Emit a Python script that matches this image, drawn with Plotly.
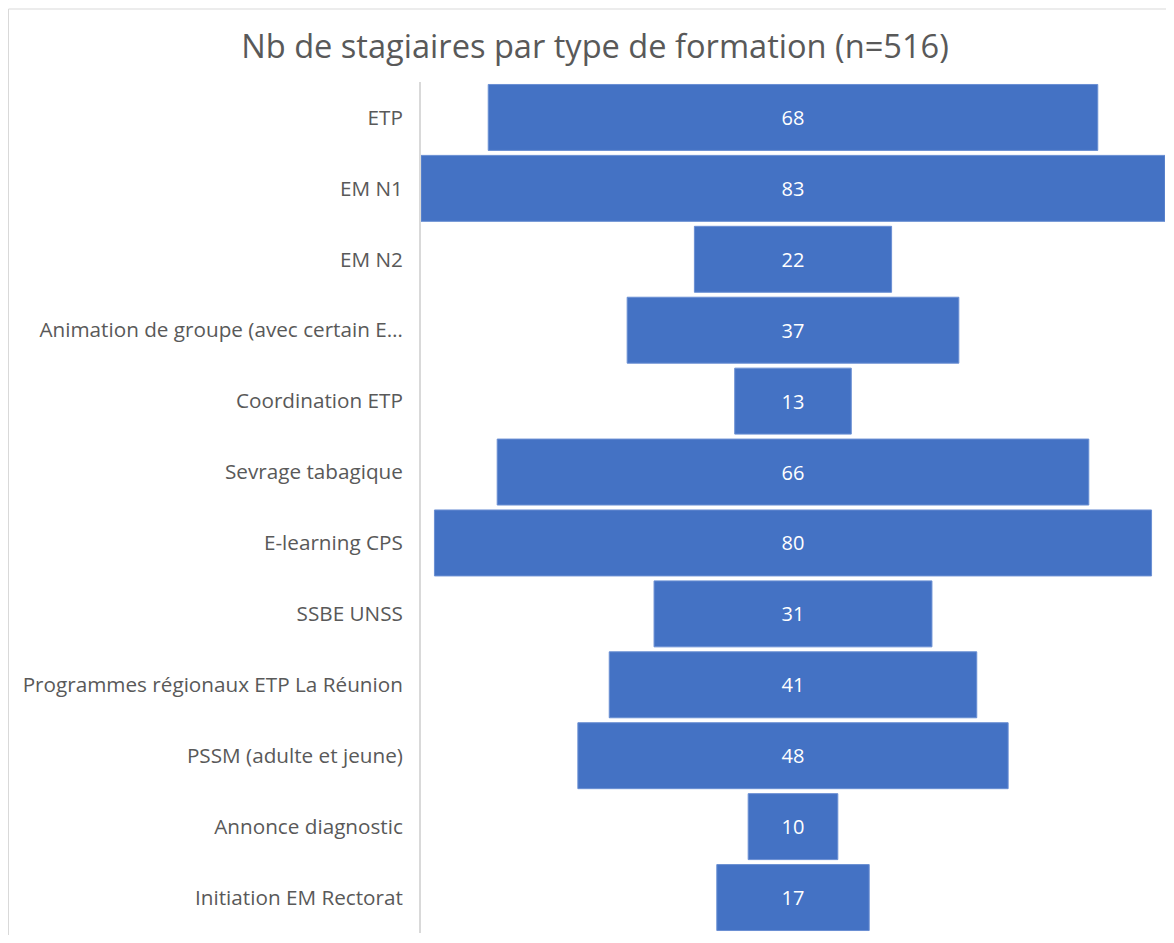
import plotly.graph_objects as go

categories = [
    "ETP",
    "EM N1",
    "EM N2",
    "Animation de groupe (avec certain E…",
    "Coordination ETP",
    "Sevrage tabagique",
    "E-learning CPS",
    "SSBE UNSS",
    "Programmes régionaux ETP La Réunion",
    "PSSM (adulte et jeune)",
    "Annonce diagnostic",
    "Initiation EM Rectorat",
]
values = [68, 83, 22, 37, 13, 66, 80, 31, 41, 48, 10, 17]
title_text = "Nb de stagiaires par type de formation (n=516)"

OFF = 8  # page body margin
W, H = 1174 - 2 * OFF, 943 - 2 * OFF
L, T = 421 - OFF, 82 - OFF
R = W + OFF - 1165
B = H + OFF - 933
FONT = "Open Sans"
GREY = "#595959"

fig = go.Figure(go.Funnel(
    y=categories,
    x=values,
    textinfo="value",
    textposition="inside",
    insidetextanchor="middle",
    textfont=dict(family=FONT, size=20, color="white"),
    marker=dict(color="#4472c4", line=dict(width=1, color="#6a8fd3")),
    connector=dict(visible=False),
))

pw = 1165 - 421
ph = 933 - 82
fig.add_shape(type="rect", xref="paper", yref="paper",
              x0=(8.5 - 421) / pw, x1=1.2, y0=-0.2, y1=1 + (82 - 9) / ph,
              line=dict(color="#d9d9d9", width=1), layer="below")

fig.update_layout(
    width=W, height=H,
    margin=dict(l=L, r=R, t=T, b=B, pad=0),
    paper_bgcolor="white", plot_bgcolor="white",
    funnelgap=0.07,
    showlegend=False,
    title=dict(text=title_text, x=(595 - OFF) / W, xref="container", xanchor="center",
               y=1 - (47 - OFF) / H, yref="container", yanchor="middle",
               font=dict(family=FONT, size=32.6, color=GREY)),
    xaxis=dict(visible=False, range=[-41.5, 41.5]),
    yaxis=dict(showline=True, linecolor="#d9d9d9", linewidth=2,
               showgrid=False, zeroline=False, ticks="",
               ticklabelstandoff=12,
               tickfont=dict(family=FONT, size=20.7, color=GREY)),
)

fig.write_html("out.html")
